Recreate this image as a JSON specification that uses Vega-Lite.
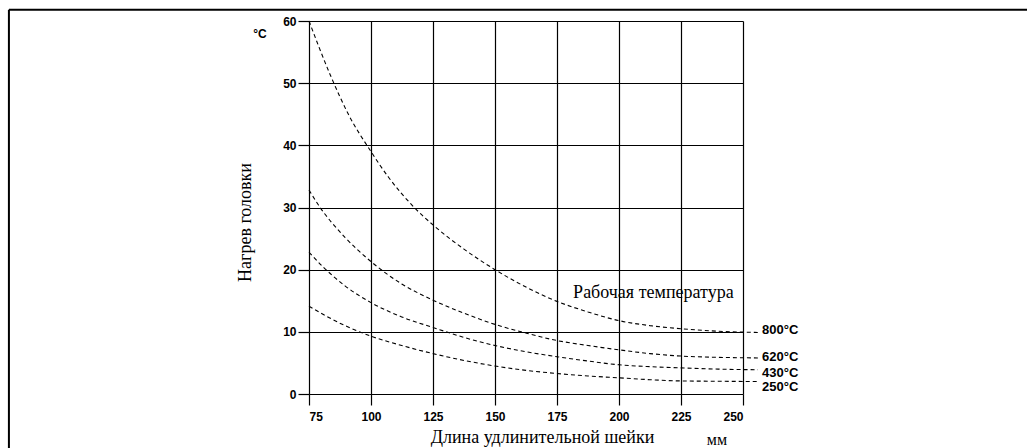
{
  "$schema": "https://vega.github.io/schema/vega-lite/v6.json",
  "width": 434,
  "height": 373,
  "autosize": "none",
  "padding": {"left": 309, "top": 21, "right": 284, "bottom": 54},
  "background": "white",
  "config": {
    "view": {"stroke": null},
    "axis": {
      "labelFont": "Liberation Sans",
      "labelFontWeight": "bold",
      "labelFontSize": 12,
      "labelColor": "black",
      "tickColor": "black",
      "tickWidth": 1.2,
      "tickSize": 11,
      "domain": false,
      "grid": true,
      "gridColor": "black",
      "gridWidth": 1.2,
      "gridOpacity": 1,
      "titleFont": "Liberation Serif",
      "titleFontSize": 18,
      "titleFontWeight": "normal",
      "titleColor": "black"
    }
  },
  "datasets": {
    "curves": [
      {"x": 75, "y": 60, "t": "800"}, {"x": 83.5, "y": 51.4, "t": "800"}, {"x": 91, "y": 44.9, "t": "800"}, {"x": 100, "y": 39, "t": "800"}, {"x": 107, "y": 34.9, "t": "800"}, {"x": 117.7, "y": 29.9, "t": "800"}, {"x": 125, "y": 27.2, "t": "800"}, {"x": 137.5, "y": 23.3, "t": "800"}, {"x": 150, "y": 20, "t": "800"}, {"x": 162.5, "y": 17.2, "t": "800"}, {"x": 175, "y": 14.9, "t": "800"}, {"x": 187.5, "y": 13.2, "t": "800"}, {"x": 200, "y": 11.8, "t": "800"}, {"x": 212.5, "y": 11.0, "t": "800"}, {"x": 225, "y": 10.5, "t": "800"}, {"x": 240, "y": 10.1, "t": "800"}, {"x": 256, "y": 9.9, "t": "800"},
      {"x": 75, "y": 32.8, "t": "620"}, {"x": 78.8, "y": 30.4, "t": "620"}, {"x": 89.5, "y": 25.2, "t": "620"}, {"x": 100, "y": 21.3, "t": "620"}, {"x": 112.4, "y": 17.7, "t": "620"}, {"x": 125, "y": 15.1, "t": "620"}, {"x": 137.5, "y": 13.0, "t": "620"}, {"x": 150, "y": 11.2, "t": "620"}, {"x": 162.5, "y": 9.8, "t": "620"}, {"x": 175, "y": 8.6, "t": "620"}, {"x": 187.5, "y": 7.8, "t": "620"}, {"x": 200, "y": 7.1, "t": "620"}, {"x": 212.5, "y": 6.5, "t": "620"}, {"x": 225, "y": 6.1, "t": "620"}, {"x": 240, "y": 5.9, "t": "620"}, {"x": 256, "y": 5.8, "t": "620"},
      {"x": 75, "y": 22.8, "t": "430"}, {"x": 80.8, "y": 20.4, "t": "430"}, {"x": 89.5, "y": 17.4, "t": "430"}, {"x": 100, "y": 14.7, "t": "430"}, {"x": 112.4, "y": 12.4, "t": "430"}, {"x": 125, "y": 10.7, "t": "430"}, {"x": 137.5, "y": 9.1, "t": "430"}, {"x": 150, "y": 7.8, "t": "430"}, {"x": 162.5, "y": 6.8, "t": "430"}, {"x": 175, "y": 6.0, "t": "430"}, {"x": 187.5, "y": 5.3, "t": "430"}, {"x": 200, "y": 4.7, "t": "430"}, {"x": 212.5, "y": 4.4, "t": "430"}, {"x": 225, "y": 4.2, "t": "430"}, {"x": 240, "y": 4.0, "t": "430"}, {"x": 256, "y": 3.9, "t": "430"},
      {"x": 75, "y": 14.1, "t": "250"}, {"x": 89.5, "y": 11.0, "t": "250"}, {"x": 100, "y": 9.3, "t": "250"}, {"x": 112.4, "y": 7.8, "t": "250"}, {"x": 125, "y": 6.5, "t": "250"}, {"x": 137.5, "y": 5.4, "t": "250"}, {"x": 150, "y": 4.5, "t": "250"}, {"x": 162.5, "y": 3.8, "t": "250"}, {"x": 175, "y": 3.3, "t": "250"}, {"x": 187.5, "y": 2.9, "t": "250"}, {"x": 200, "y": 2.6, "t": "250"}, {"x": 212.5, "y": 2.3, "t": "250"}, {"x": 225, "y": 2.1, "t": "250"}, {"x": 240, "y": 2.05, "t": "250"}, {"x": 256, "y": 2.0, "t": "250"}
    ],
    "labels": [
      {"x": 257.7, "y": 10.3, "label": "800°C"},
      {"x": 257.7, "y": 5.9, "label": "620°C"},
      {"x": 257.7, "y": 3.35, "label": "430°C"},
      {"x": 257.7, "y": 1.1, "label": "250°C"}
    ]
  },
  "layer": [
    {
      "data": {"values": [{"frame": "top"}]},
      "mark": {"type": "rule", "color": "black", "strokeWidth": 2, "clip": false},
      "encoding": {
        "x": {"datum": -46, "type": "quantitative", "scale": {"domain": [75, 250], "nice": false, "zero": false}},
        "x2": {"datum": 370},
        "y": {"datum": 61.8, "type": "quantitative", "scale": {"domain": [0, 60], "nice": false}}
      }
    },
    {
      "data": {"values": [{"frame": "left"}]},
      "mark": {"type": "rule", "color": "black", "strokeWidth": 2, "clip": false},
      "encoding": {
        "x": {"datum": -46, "type": "quantitative"},
        "y": {"datum": 61.8, "type": "quantitative"},
        "y2": {"datum": -9}
      }
    },
    {
      "data": {"name": "curves"},
      "mark": {"type": "line", "color": "black", "strokeWidth": 1.1, "strokeDash": [4, 3], "interpolate": "monotone", "clip": false},
      "encoding": {
        "x": {
          "field": "x", "type": "quantitative",
          "scale": {"domain": [75, 250], "nice": false, "zero": false},
          "axis": {"values": [75, 100, 125, 150, 175, 200, 225, 250], "title": "Длина удлинительной шейки", "titleX": 233, "titleY": 43, "titleBaseline": "middle", "labelPadding": 6}
        },
        "y": {
          "field": "y", "type": "quantitative",
          "scale": {"domain": [0, 60], "nice": false},
          "axis": {"values": [0, 10, 20, 30, 40, 50, 60], "title": "Нагрев головки", "titleX": -64, "titleY": 201, "titleAlign": "center", "titleBaseline": "middle", "titleAngle": -90, "labelPadding": 2}
        },
        "detail": {"field": "t"}
      }
    },
    {
      "data": {"name": "labels"},
      "mark": {"type": "text", "align": "left", "baseline": "middle", "font": "Liberation Sans", "fontWeight": "bold", "fontSize": 13, "color": "black", "clip": false},
      "encoding": {
        "x": {"field": "x", "type": "quantitative"},
        "y": {"field": "y", "type": "quantitative"},
        "text": {"field": "label"}
      }
    },
    {
      "data": {"values": [{"x": 181.5, "y": 16.2, "label": "Рабочая температура"}]},
      "mark": {"type": "text", "align": "left", "baseline": "middle", "font": "Liberation Serif", "fontSize": 18, "color": "black", "clip": false},
      "encoding": {
        "x": {"field": "x", "type": "quantitative"},
        "y": {"field": "y", "type": "quantitative"},
        "text": {"field": "label"}
      }
    },
    {
      "data": {"values": [{"x": 55.2, "y": 57.9, "label": "°C"}]},
      "mark": {"type": "text", "align": "center", "baseline": "middle", "font": "Liberation Sans", "fontWeight": "bold", "fontSize": 12, "color": "black", "clip": false},
      "encoding": {
        "x": {"field": "x", "type": "quantitative"},
        "y": {"field": "y", "type": "quantitative"},
        "text": {"field": "label"}
      }
    },
    {
      "data": {"values": [{"x": 239.5, "y": -7.35, "label": "мм"}]},
      "mark": {"type": "text", "align": "center", "baseline": "middle", "font": "Liberation Serif", "fontSize": 16, "color": "black", "clip": false},
      "encoding": {
        "x": {"field": "x", "type": "quantitative"},
        "y": {"field": "y", "type": "quantitative"},
        "text": {"field": "label"}
      }
    }
  ]
}
